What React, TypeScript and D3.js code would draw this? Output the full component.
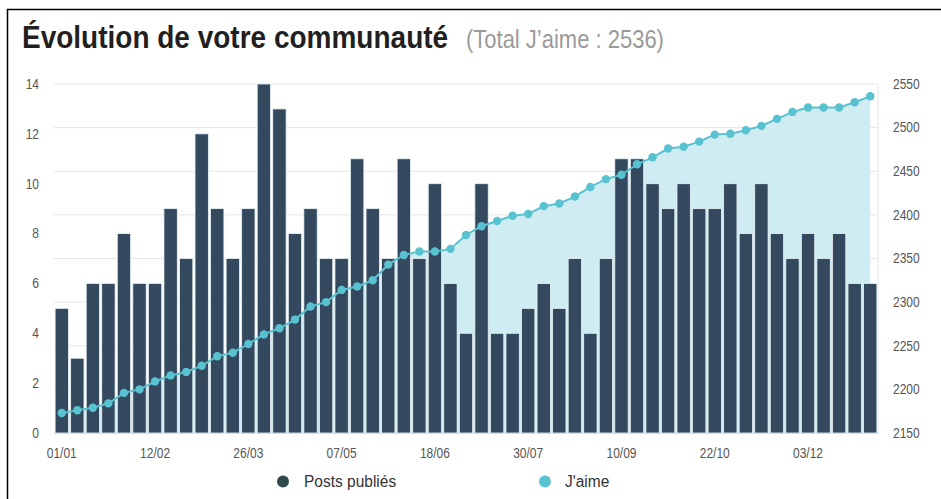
import React from "react";
import * as d3 from "d3";

const posts = [5,3,6,6,8,6,6,9,7,12,9,7,9,14,13,8,9,7,7,11,9,7,11,7,10,6,4,10,4,4,5,6,5,7,4,7,11,11,10,9,10,9,9,10,8,10,8,7,8,7,8,6,6];
const likes = [2173,2176,2179,2184,2196,2200,2209,2216,2220,2227,2238,2242,2252,2263,2270,2280,2295,2300,2314,2318,2325,2343,2354,2358,2358,2361,2377,2387,2393,2399,2401,2410,2413,2421,2432,2441,2446,2458,2466,2476,2478,2484,2492,2493,2497,2502,2510,2518,2523,2523,2523,2529,2536];
const xTickLabels = ["01/01","12/02","26/03","07/05","18/06","30/07","10/09","22/10","03/12"];
const xTickEvery = 6;
const leftTicks = [0,2,4,6,8,10,12,14];
const rightTicks = [2150,2200,2250,2300,2350,2400,2450,2500,2550];
const title = "Évolution de votre communauté";
const subtitle = "(Total J’aime : 2536)";
const seriesNames = ["Posts publiés", "J'aime"];

const W = 941, H = 499;
const M = { left: 54, right: 878, top: 84, bottom: 433 };
const BAR = "#34495e";
const TEAL = "#58c2d1";
const FONT = "'Liberation Sans', Arial, Helvetica, sans-serif";

function T(props: any) {
  const { x, y, sy = 1.15, children, ...rest } = props;
  return (
    <text transform={`translate(${x},${y}) scale(1,${sy})`} {...rest}>{children}</text>
  );
}

export default function App() {
  const idx = d3.range(posts.length);
  const x = d3.scaleBand<number>().domain(idx).range([M.left, M.right]).paddingInner(0).paddingOuter(0);
  const bw = x.bandwidth();
  const cx = (i: number) => (x(i) as number) + bw / 2;
  const yL = d3.scaleLinear().domain([0, 14]).range([M.bottom, M.top]);
  const yR = d3.scaleLinear().domain([2150, 2550]).range([M.bottom, M.top]);

  const area = d3.area<number>().x((d, i) => cx(i)).y0(M.bottom).y1((d) => yR(d));
  const line = d3.line<number>().x((d, i) => cx(i)).y((d) => yR(d));
  const barW = bw - 2.2;

  return (
    <div style={{ position: "fixed", left: 0, top: 0 }}>
      <svg width={W} height={H} style={{ display: "block", background: "#fff" }} fontFamily={FONT}>
        <line x1={7} y1={9.5} x2={W} y2={9.5} stroke="#000" strokeWidth={1.5} />
        <line x1={7.5} y1={9} x2={7.5} y2={H} stroke="#000" strokeWidth={1.5} />

        <T x={22} y={48} sy={1.1} fontSize={28} fontWeight="bold" fill="#231f20">{title}</T>
        <T x={466} y={48} sy={1.2} fontSize={22} fill="#9a9a9a">{subtitle}</T>

        {rightTicks.map((t) => (
          <line key={t} x1={M.left} x2={M.right} y1={yR(t)} y2={yR(t)} stroke="#e6e6e6" strokeWidth={1} />
        ))}
        <line x1={M.right} x2={M.right} y1={M.top} y2={M.bottom} stroke="#e6e6e6" />

        <path d={area(likes) || ""} fill="#cfecf2" />

        {posts.map((v, i) => (
          <rect key={i} x={cx(i) - barW / 2} y={yL(v)} width={barW} height={M.bottom - yL(v)} fill={BAR} stroke="#e8f4f7" strokeWidth={0.8} />
        ))}
        <line x1={M.left} x2={M.right} y1={M.bottom + 0.5} y2={M.bottom + 0.5} stroke="#d5e3e8" />

        <path d={line(likes) || ""} fill="none" stroke={TEAL} strokeWidth={2} />
        {likes.map((v, i) => (
          <circle key={i} cx={cx(i)} cy={yR(v)} r={4.2} fill={TEAL} />
        ))}

        {leftTicks.map((t) => (
          <T key={t} x={39} y={yL(t) + 4.8} textAnchor="end" fontSize={12} fill="#555">{t}</T>
        ))}
        {rightTicks.map((t) => (
          <T key={t} x={893} y={yR(t) + 4.8} fontSize={12} fill="#555">{t}</T>
        ))}
        {xTickLabels.map((l, k) => (
          <T key={l} x={cx(k * xTickEvery)} y={457.5} textAnchor="middle" fontSize={12} fill="#555">{l}</T>
        ))}

        <circle cx={283} cy={481.5} r={6} fill="#2f4a4d" />
        <T x={304} y={486.5} sy={1.1} fontSize={15.5} fill="#333">{seriesNames[0]}</T>
        <circle cx={545} cy={481.5} r={6} fill={TEAL} />
        <T x={565} y={486.5} sy={1.1} fontSize={15.5} fill="#333">{seriesNames[1]}</T>
      </svg>
    </div>
  );
}
